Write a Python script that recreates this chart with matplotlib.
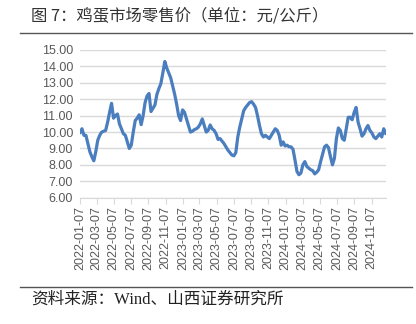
import pandas as pd
import matplotlib.pyplot as plt
import matplotlib.dates as mdates

# weekly egg retail price, yuan/kg
start_date = "2022-01-07"
prices = [
    9.95, 10.2, 9.8, 9.8, 9.3, 8.8, 8.5, 8.25, 8.8, 9.5,
    9.8, 10.0, 10.05, 10.1, 10.6, 11.2, 11.75, 10.85, 11.0, 11.1,
    10.5, 10.2, 9.9, 9.8, 9.4, 9.0, 9.2, 10.0, 10.7, 10.85,
    11.05, 10.45, 11.0, 11.8, 12.2, 12.35, 11.25, 11.45, 11.65, 12.3,
    12.65, 12.95, 13.6, 14.3, 13.9, 13.6, 13.3, 12.8, 12.3, 11.7,
    11.0, 10.7, 11.35, 11.2, 10.8, 10.4, 10.0, 10.05, 10.15, 10.2,
    10.3, 10.5, 10.8, 10.4, 10.0, 10.1, 10.43, 10.2, 10.1, 9.9,
    9.55, 9.6, 9.45, 9.3, 9.1, 8.9, 8.75, 8.6, 8.55, 8.75,
    9.7, 10.3, 10.8, 11.3, 11.5, 11.65, 11.8, 11.85, 11.7, 11.5,
    11.0, 10.4, 9.9, 9.7, 9.8, 9.7, 9.6, 9.8, 10.0, 10.2,
    10.1, 9.8, 9.2, 9.4, 9.15, 9.2, 9.1, 9.1, 8.95, 8.3,
    7.6, 7.4, 7.5, 8.0, 8.2, 7.9, 7.8, 7.7, 7.65, 7.45,
    7.55, 7.7, 8.2, 8.65, 9.1, 9.2, 9.05, 8.5, 8.0, 8.4,
    9.6, 10.25, 10.1, 9.6, 9.5, 10.2, 10.9, 10.9, 10.75, 11.2,
    11.5, 10.6, 10.2, 9.75, 9.9, 10.2, 10.4, 10.1, 9.95, 9.7,
    9.6, 9.75, 9.9, 9.7, 10.2, 9.9,
]
y_ticks = [6, 7, 8, 9, 10, 11, 12, 13, 14, 15]

title_text = "图 7：鸡蛋市场零售价（单位：元/公斤）"
source_text = "资料来源：Wind、山西证券研究所"

dates = pd.date_range(start_date, periods=len(prices), freq="7D")

fig = plt.figure(figsize=(4.16, 3.24), dpi=100)
ax = fig.add_axes([80 / 416, 1 - 197.7 / 324, 305.7 / 416, 147.7 / 324])

ax.plot(dates, prices, color="#4a7ebf", linewidth=2.3, solid_capstyle="round")

ax.set_xlim(dates[0], dates[-1])
ax.set_ylim(6, 15)
ax.set_yticks(y_ticks)
ax.set_yticklabels([f"{v:.2f}" for v in y_ticks])

ax.xaxis.set_major_locator(mdates.MonthLocator(bymonth=range(1, 13, 2), bymonthday=7))
ax.xaxis.set_major_formatter(mdates.DateFormatter("%Y-%m-%d"))

ax.grid(axis="y", color="#d9d9d9", linewidth=1)
ax.set_axisbelow(True)
for side in ["top", "right", "left"]:
    ax.spines[side].set_visible(False)
ax.spines["bottom"].set_color("#d9d9d9")

ax.tick_params(axis="y", length=0, pad=5, labelsize=9, labelcolor="#595959")
ax.tick_params(axis="x", length=4, color="#d9d9d9", pad=2,
               labelsize=9, labelcolor="#595959", labelrotation=90)
for lbl in ax.get_xticklabels() + ax.get_yticklabels():
    lbl.set_fontfamily("Liberation Sans")

# header and footer rules
fig.add_artist(plt.Line2D([20 / 416, 412 / 416], [1 - 33 / 324] * 2,
                          color="#555555", linewidth=1))
fig.add_artist(plt.Line2D([20 / 416, 412 / 416], [1 - 287 / 324] * 2,
                          color="#555555", linewidth=1))

fig.text(31 / 416, 1 - 16 / 324, title_text, fontsize=11.8, color="#333333",
         family=["Noto Sans CJK SC", "DejaVu Sans"], va="center", ha="left")
fig.text(31 / 416, 1 - 300 / 324, source_text, fontsize=12, color="#222222",
         family=["Liberation Serif", "Noto Sans CJK SC"], va="center", ha="left")

fig.savefig("out.png", dpi=100)
